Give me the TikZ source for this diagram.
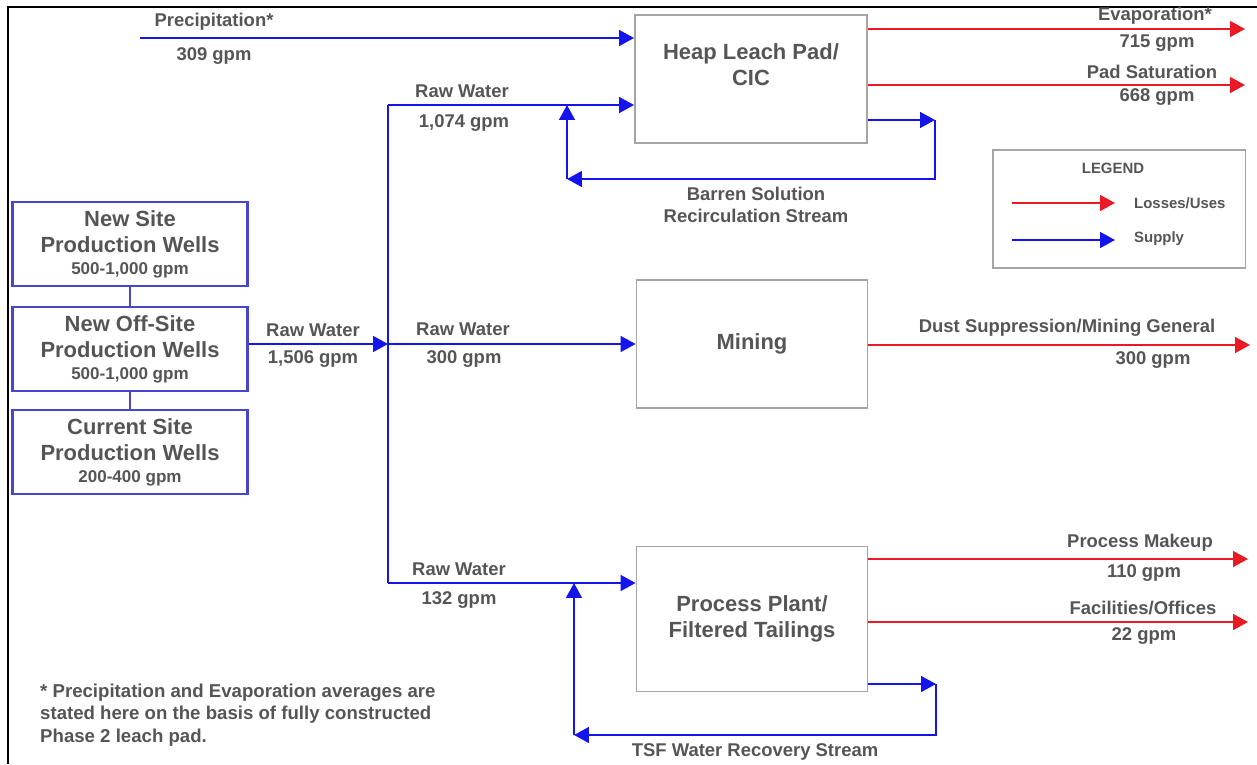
\documentclass[tikz,border=0pt]{standalone}
\usepackage{fontspec}
\setmainfont{Liberation Sans}
\usetikzlibrary{arrows.meta}
\definecolor{supplyblue}{RGB}{20,20,235}
\definecolor{lossred}{RGB}{235,25,35}
\definecolor{wellblue}{RGB}{70,70,205}
\definecolor{boxgray}{RGB}{165,165,165}
\definecolor{txtgray}{RGB}{85,85,85}

\begin{document}
\begin{tikzpicture}[
    x=0.02cm, y=-0.02cm,
    every node/.style={text=txtgray, font=\bfseries},
    procbox/.style={draw=boxgray, line width=1.1pt, inner sep=0pt},
    wellbox/.style={draw=wellblue, line width=1.4pt, minimum width=4.7cm, minimum height=1.69cm,
        align=center, inner sep=0pt, font=\bfseries\fontsize{12.5}{14.8}\selectfont},
    boxtitle/.style={align=center, font=\bfseries\fontsize{12.5}{14.8}\selectfont},
    flow/.style={align=center, font=\bfseries\fontsize{10.5}{12.6}\selectfont},
    legtext/.style={font=\bfseries\fontsize{8.5}{10}\selectfont},
    supply/.style={draw=supplyblue, line width=1.1pt, -{Triangle[length=8.5pt, width=9pt]}},
    supplyline/.style={draw=supplyblue, line width=1.1pt},
    wellline/.style={draw=wellblue, line width=1.4pt},
    loss/.style={draw=lossred, line width=1.1pt, -{Triangle[length=8.5pt, width=9pt]}}
]
    \useasboundingbox (0,0) rectangle (1257,764);
    \draw[line width=1.6pt] (8,764) -- (8,7) -- (1257,7);

    % wells
    \node[wellbox] (newsite) at (130,244) {New Site\\Production Wells\\[-2.3pt]{\fontsize{9.7}{11}\selectfont 500-1,000 gpm}};
    \node[wellbox] (offsite) at (130,349) {New Off-Site\\Production Wells\\[-2.3pt]{\fontsize{9.7}{11}\selectfont 500-1,000 gpm}};
    \node[wellbox] (cursite) at (130,452) {Current Site\\Production Wells\\[-2.3pt]{\fontsize{9.7}{11}\selectfont 200-400 gpm}};
    \draw[wellline] (newsite) -- (offsite);
    \draw[wellline] (offsite) -- (cursite);

    % process boxes
    \node[procbox, minimum width=4.64cm, minimum height=2.56cm] (heap) at (751,79) {};
    \node[boxtitle] (heaptxt) at (751,65) {Heap Leach Pad/\\CIC};
    \node[procbox, minimum width=4.62cm, minimum height=2.56cm] (mine) at (752,344) {};
    \node[boxtitle] (minetxt) at (752,344) {Mining};
    \node[procbox, minimum width=4.62cm, minimum height=2.9cm] (plant) at (752,619) {};
    \node[boxtitle] (planttxt) at (752,619) {Process Plant/\\Filtered Tailings};

    % raw water supply
    \coordinate (split) at (388,344);
    \coordinate (topcorner) at (388,105);
    \coordinate (botcorner) at (388,583);
    \coordinate (precip) at (140,38);
    \draw[supply] (offsite.east |- split) -- (split);
    \draw[supplyline] (topcorner) -- (botcorner);
    \draw[supply] (topcorner) -- (heap.west |- topcorner);
    \draw[supply] (split) -- (mine.west |- split);
    \draw[supply] (botcorner) -- (plant.west |- botcorner);
    \draw[supply] (precip) -- (heap.west |- precip);

    \node[flow] (preciplbl) at (214,22) {Precipitation*};
    \node[flow] (precipgpm) at (214,56) {309 gpm};
    \node[flow] (rawlbl) at (313,330) {Raw Water};
    \node[flow] (rawgpm) at (313,359) {1,506 gpm};
    \node[flow] (heaplbl) at (462,91) {Raw Water};
    \node[flow] (heapgpm) at (464,123) {1,074 gpm};
    \node[flow] (minelbl) at (463,329) {Raw Water};
    \node[flow] (minegpm) at (464,359) {300 gpm};
    \node[flow] (plantlbl) at (459,569) {Raw Water};
    \node[flow] (plantgpm) at (459,600) {132 gpm};

    % recirculation
    \coordinate (barrenR) at (935,120);
    \coordinate (barrenL) at (567,179);
    \draw[supply] (heap.east |- barrenR) -- (barrenR);
    \draw[supply] (barrenR) |- (barrenL);
    \draw[supply] (barrenL) -- (barrenL |- topcorner);
    \node[flow] (barrenlbl) at (756,205) {Barren Solution\\Recirculation Stream};
    \coordinate (tsfR) at (936,684);
    \coordinate (tsfL) at (574,735);
    \draw[supply] (plant.east |- tsfR) -- (tsfR);
    \draw[supply] (tsfR) |- (tsfL);
    \draw[supply] (tsfL) -- (tsfL |- botcorner);
    \node[flow] (tsflbl) at (755,752) {TSF Water Recovery Stream};

    % losses
    \coordinate (evapend) at (1245,29);
    \coordinate (padend) at (1245,85);
    \coordinate (dustend) at (1250,345);
    \coordinate (makeupend) at (1248,559);
    \coordinate (officeend) at (1248,622);
    \draw[loss] (heap.east |- evapend) -- (evapend);
    \draw[loss] (heap.east |- padend) -- (padend);
    \draw[loss] (mine.east |- dustend) -- (dustend);
    \draw[loss] (plant.east |- makeupend) -- (makeupend);
    \draw[loss] (plant.east |- officeend) -- (officeend);
    \node[flow] (evaplbl) at (1155,16) {Evaporation*};
    \node[flow] (evapgpm) at (1157,43) {715 gpm};
    \node[flow] (padlbl) at (1152,72) {Pad Saturation};
    \node[flow] (padgpm) at (1157,97) {668 gpm};
    \node[flow] (dustlbl) at (1067,328) {Dust Suppression/Mining General};
    \node[flow] (dustgpm) at (1153,360) {300 gpm};
    \node[flow] (makeuplbl) at (1140,543) {Process Makeup};
    \node[flow] (makeupgpm) at (1144,573) {110 gpm};
    \node[flow] (officelbl) at (1143,608) {Facilities/Offices};
    \node[flow] (officegpm) at (1144,636) {22 gpm};

    % legend
    \node[procbox, minimum width=5.06cm, minimum height=2.36cm] (legend) at (1119,209) {};
    \node[legtext] (legtitle) at (1113,168) {LEGEND};
    \coordinate (lossA) at (1012,203);
    \coordinate (lossB) at (1115,203);
    \coordinate (supA) at (1012,240);
    \coordinate (supB) at (1115,240);
    \draw[loss] (lossA) -- (lossB);
    \draw[supply] (supA) -- (supB);
    \node[legtext, anchor=west] (losstxt) at (1128,203) {Losses/Uses};
    \node[legtext, anchor=west] (suptxt) at (1128,239) {Supply};

    % footnote
    \node[anchor=west, align=left, font=\bfseries\fontsize{10.6}{12.8}\selectfont] (note) at (34,715)
        {* Precipitation and Evaporation averages are\\stated here on the basis of fully constructed\\Phase 2 leach pad.};
\end{tikzpicture}
\end{document}
